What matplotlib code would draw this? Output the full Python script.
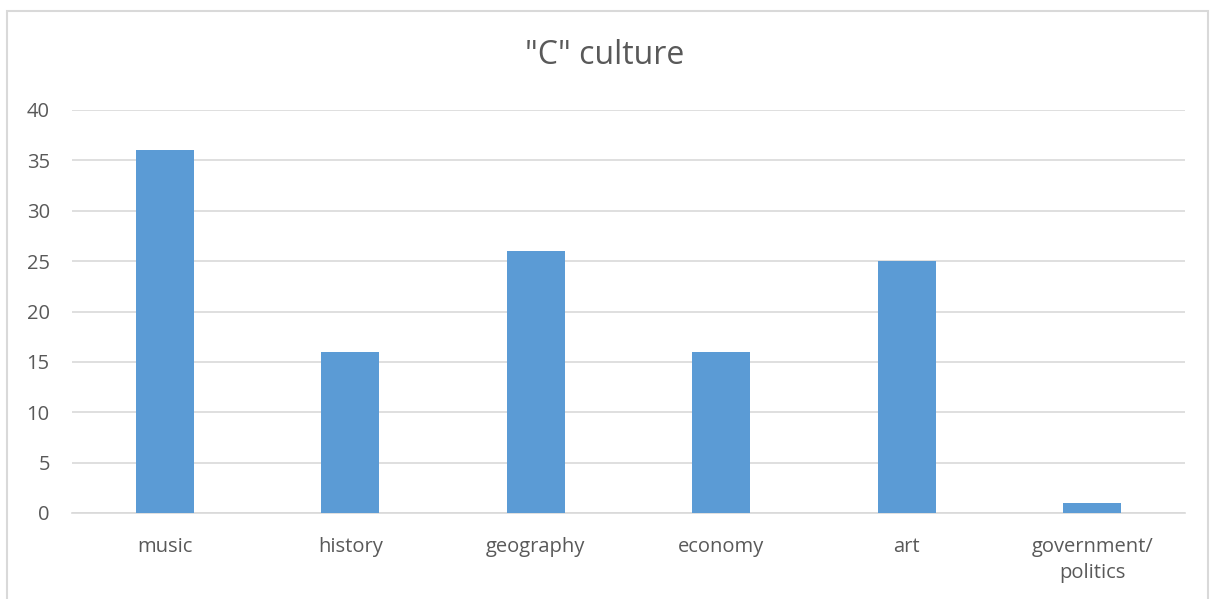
import matplotlib
matplotlib.use("Agg")
import matplotlib.pyplot as plt
from matplotlib.patches import Rectangle

# Category counts for "C" culture
categories = ["music", "history", "geography", "economy", "art", "government/\npolitics"]
counts = [36, 16, 26, 16, 25, 1]
y_ticks = [0, 5, 10, 15, 20, 25, 30, 35, 40]

bar_color = "#5B9BD5"
text_color = "#595959"
grid_color = "#D9D9D9"

plt.rcParams['font.family'] = ['Open Sans', 'DejaVu Sans']

fig = plt.figure(figsize=(12.1, 5.99), dpi=100)
ax = fig.add_axes([72 / 1210, 1 - 513 / 599, (1185 - 72) / 1210, (513 - 110) / 599])

x = range(len(categories))
ax.bar(x, counts, width=0.31, color=bar_color, zorder=3)

ax.set_xlim(-0.5, len(categories) - 0.5)
ax.set_ylim(0, 40)
ax.set_yticks(y_ticks)
ax.set_xticks(list(x))
ax.set_xticklabels(categories, linespacing=1.45)
ax.tick_params(axis='both', length=0, labelsize=14.5, colors=text_color)
ax.tick_params(axis='y', pad=16)
ax.tick_params(axis='x', pad=17)
ax.grid(axis='y', color=grid_color, linewidth=1.2, zorder=0)
for side in ['top', 'right', 'left']:
    ax.spines[side].set_visible(False)
ax.spines['bottom'].set_color(grid_color)
ax.spines['bottom'].set_linewidth(1.2)

fig.text(0.5, 1 - 55 / 599, '"C" culture', ha='center', va='center',
         fontsize=23, color=text_color)

# chart-area border (bottom edge runs off the image)
fig.patches.append(Rectangle((7 / 1210, -0.05), (1208 - 7) / 1210, 1.05 - 11 / 599,
                             transform=fig.transFigure, fill=False,
                             edgecolor=grid_color, linewidth=1.5))

fig.savefig("out.png", dpi=100)
